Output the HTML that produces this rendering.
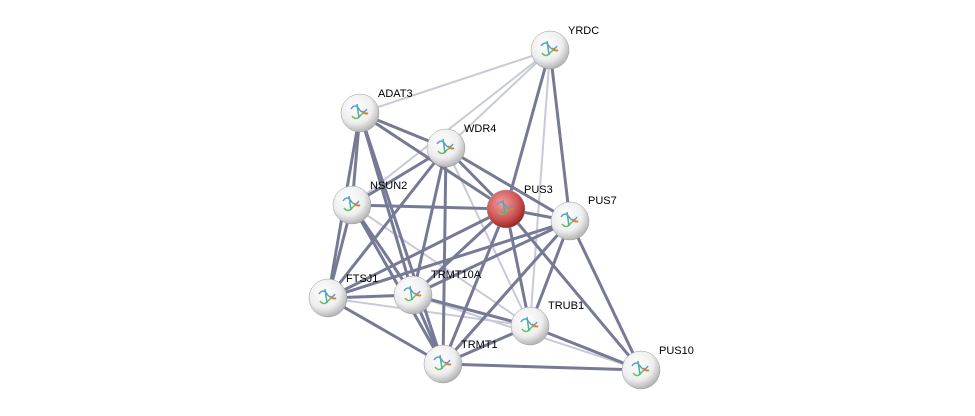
<!DOCTYPE html>
<html><head><meta charset="utf-8"><style>html,body{margin:0;padding:0;background:#fff}svg{display:block}</style></head><body>
<svg width="975" height="416" xmlns="http://www.w3.org/2000/svg">
<defs>
<radialGradient id="g" cx="0.4" cy="0.35" r="0.7"><stop offset="0" stop-color="#fff"/><stop offset="0.6" stop-color="#eee"/><stop offset="1" stop-color="#aaa"/></radialGradient>
<radialGradient id="r" cx="0.4" cy="0.35" r="0.7"><stop offset="0" stop-color="#f2a0a0"/><stop offset="0.6" stop-color="#d25555"/><stop offset="1" stop-color="#8a2020"/></radialGradient>
<g id="p" fill="none" stroke-width="1.5">
<path d="M-9 -4 q4 -6 8 0 t8 0" stroke="#5a9ad8"/>
<path d="M-8 3 q4 5 8 0 t8 -2" stroke="#6cc05a"/>
<path d="M-3 -9 l2 14" stroke="#48b0a8"/>
<path d="M2 -2 q3 4 6 2" stroke="#e07a3a"/>
</g>
</defs>
<g stroke-linecap="round">
<g stroke="#c8cad6" stroke-width="2">
<line x1="550" y1="50" x2="360" y2="113"/><line x1="550" y1="50" x2="446" y2="148"/><line x1="550" y1="50" x2="352" y2="205"/><line x1="550" y1="50" x2="530" y2="326"/>
<line x1="446" y1="148" x2="530" y2="326"/><line x1="352" y1="205" x2="530" y2="326"/><line x1="413" y1="295" x2="641" y2="370"/><line x1="328" y1="298" x2="530" y2="326"/>
</g>
<g stroke="#767a96" stroke-width="3">
<line x1="550" y1="50" x2="506" y2="209"/><line x1="550" y1="50" x2="570" y2="221"/>
<line x1="360" y1="113" x2="446" y2="148"/><line x1="360" y1="113" x2="352" y2="205"/><line x1="360" y1="113" x2="328" y2="298"/><line x1="360" y1="113" x2="413" y2="295"/><line x1="360" y1="113" x2="506" y2="209"/><line x1="360" y1="113" x2="443" y2="364"/>
<line x1="446" y1="148" x2="352" y2="205"/><line x1="446" y1="148" x2="506" y2="209"/><line x1="446" y1="148" x2="570" y2="221"/><line x1="446" y1="148" x2="328" y2="298"/><line x1="446" y1="148" x2="413" y2="295"/><line x1="446" y1="148" x2="443" y2="364"/>
<line x1="352" y1="205" x2="506" y2="209"/><line x1="352" y1="205" x2="328" y2="298"/><line x1="352" y1="205" x2="413" y2="295"/><line x1="352" y1="205" x2="443" y2="364"/>
<line x1="506" y1="209" x2="570" y2="221"/><line x1="506" y1="209" x2="328" y2="298"/><line x1="506" y1="209" x2="413" y2="295"/><line x1="506" y1="209" x2="443" y2="364"/><line x1="506" y1="209" x2="530" y2="326"/><line x1="506" y1="209" x2="641" y2="370"/>
<line x1="570" y1="221" x2="328" y2="298"/><line x1="570" y1="221" x2="413" y2="295"/><line x1="570" y1="221" x2="530" y2="326"/><line x1="570" y1="221" x2="443" y2="364"/><line x1="570" y1="221" x2="641" y2="370"/>
<line x1="328" y1="298" x2="413" y2="295"/><line x1="328" y1="298" x2="443" y2="364"/>
<line x1="413" y1="295" x2="443" y2="364"/><line x1="413" y1="295" x2="530" y2="326"/>
<line x1="530" y1="326" x2="443" y2="364"/><line x1="530" y1="326" x2="641" y2="370"/><line x1="443" y1="364" x2="641" y2="370"/>
</g>
</g>
<g stroke="#999" stroke-width="0.5">
<circle cx="550" cy="50" r="19" fill="url(#g)"/><circle cx="360" cy="113" r="19" fill="url(#g)"/><circle cx="446" cy="148" r="19" fill="url(#g)"/><circle cx="352" cy="205" r="19" fill="url(#g)"/><circle cx="506" cy="209" r="19" fill="url(#r)"/><circle cx="570" cy="221" r="19" fill="url(#g)"/><circle cx="328" cy="298" r="19" fill="url(#g)"/><circle cx="413" cy="295" r="19" fill="url(#g)"/><circle cx="530" cy="326" r="19" fill="url(#g)"/><circle cx="443" cy="364" r="19" fill="url(#g)"/><circle cx="641" cy="370" r="19" fill="url(#g)"/>
</g>
<use href="#p" x="550" y="50"/><use href="#p" x="360" y="113"/><use href="#p" x="446" y="148"/><use href="#p" x="352" y="205"/><use href="#p" x="506" y="209"/><use href="#p" x="570" y="221"/><use href="#p" x="328" y="298"/><use href="#p" x="413" y="295"/><use href="#p" x="530" y="326"/><use href="#p" x="443" y="364"/><use href="#p" x="641" y="370"/>
<g font-family="Liberation Sans, sans-serif" font-size="11" fill="#000">
<text x="568" y="34">YRDC</text><text x="378" y="97">ADAT3</text><text x="464" y="132">WDR4</text><text x="370" y="189">NSUN2</text><text x="524" y="193">PUS3</text><text x="588" y="204">PUS7</text><text x="346" y="282">FTSJ1</text><text x="431" y="278">TRMT10A</text><text x="548" y="309">TRUB1</text><text x="461" y="348">TRMT1</text><text x="659" y="354">PUS10</text>
</g>
</svg>
</body></html>
